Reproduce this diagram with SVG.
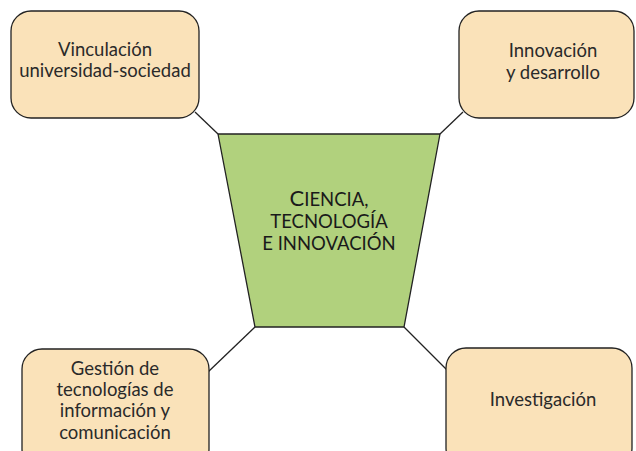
<svg xmlns="http://www.w3.org/2000/svg" width="636" height="451" viewBox="0 0 636 451">
<style>
.box{fill:#fae2b9;stroke:#222;stroke-width:1.3}
.t{font-family:Lato,"Noto Sans",sans-serif;font-size:18.5px;fill:#2a2a2a;text-anchor:middle}
.c{font-family:Lato,"Noto Sans",sans-serif;font-size:18.5px;fill:#1a1a1a;text-anchor:middle}
.ln{stroke:#222;stroke-width:1.3;fill:none}
</style>
<rect width="636" height="451" fill="#fff"/>
<g id="connectors">
<line class="ln" x1="195" y1="112" x2="218" y2="134"/>
<line class="ln" x1="440" y1="134" x2="463" y2="112"/>
<line class="ln" x1="255" y1="327" x2="208" y2="372"/>
<line class="ln" x1="404" y1="327" x2="447" y2="370"/>
</g>
<g id="center">
<polygon points="218,134 440,134 404,327 255,327" fill="#b1d17d" stroke="#222" stroke-width="1.3"/>
<text class="c" x="329" y="206"><tspan font-size="22">C</tspan>IENCIA,</text>
<text class="c" x="329" y="228">TECNOLOGÍA</text>
<text class="c" x="329" y="250">E INNOVACIÓN</text>
</g>
<g id="vinculacion">
<rect class="box" x="11" y="11" width="188" height="107" rx="20"/>
<text class="t" x="105" y="56">Vinculación</text>
<text class="t" x="105" y="77">universidad-sociedad</text>
</g>
<g id="innovacion">
<rect class="box" x="459" y="11" width="175" height="107" rx="20"/>
<text class="t" x="553" y="57">Innovación</text>
<text class="t" x="553" y="79">y desarrollo</text>
</g>
<g id="gestion">
<rect class="box" x="22" y="349" width="187" height="120" rx="20"/>
<text class="t" x="115" y="375">Gestión de</text>
<text class="t" x="115" y="396">tecnologías de</text>
<text class="t" x="115" y="417">información y</text>
<text class="t" x="115" y="439">comunicación</text>
</g>
<g id="investigacion">
<rect class="box" x="446" y="348" width="186" height="120" rx="20"/>
<text class="t" x="543" y="406">Investigación</text>
</g>
</svg>
